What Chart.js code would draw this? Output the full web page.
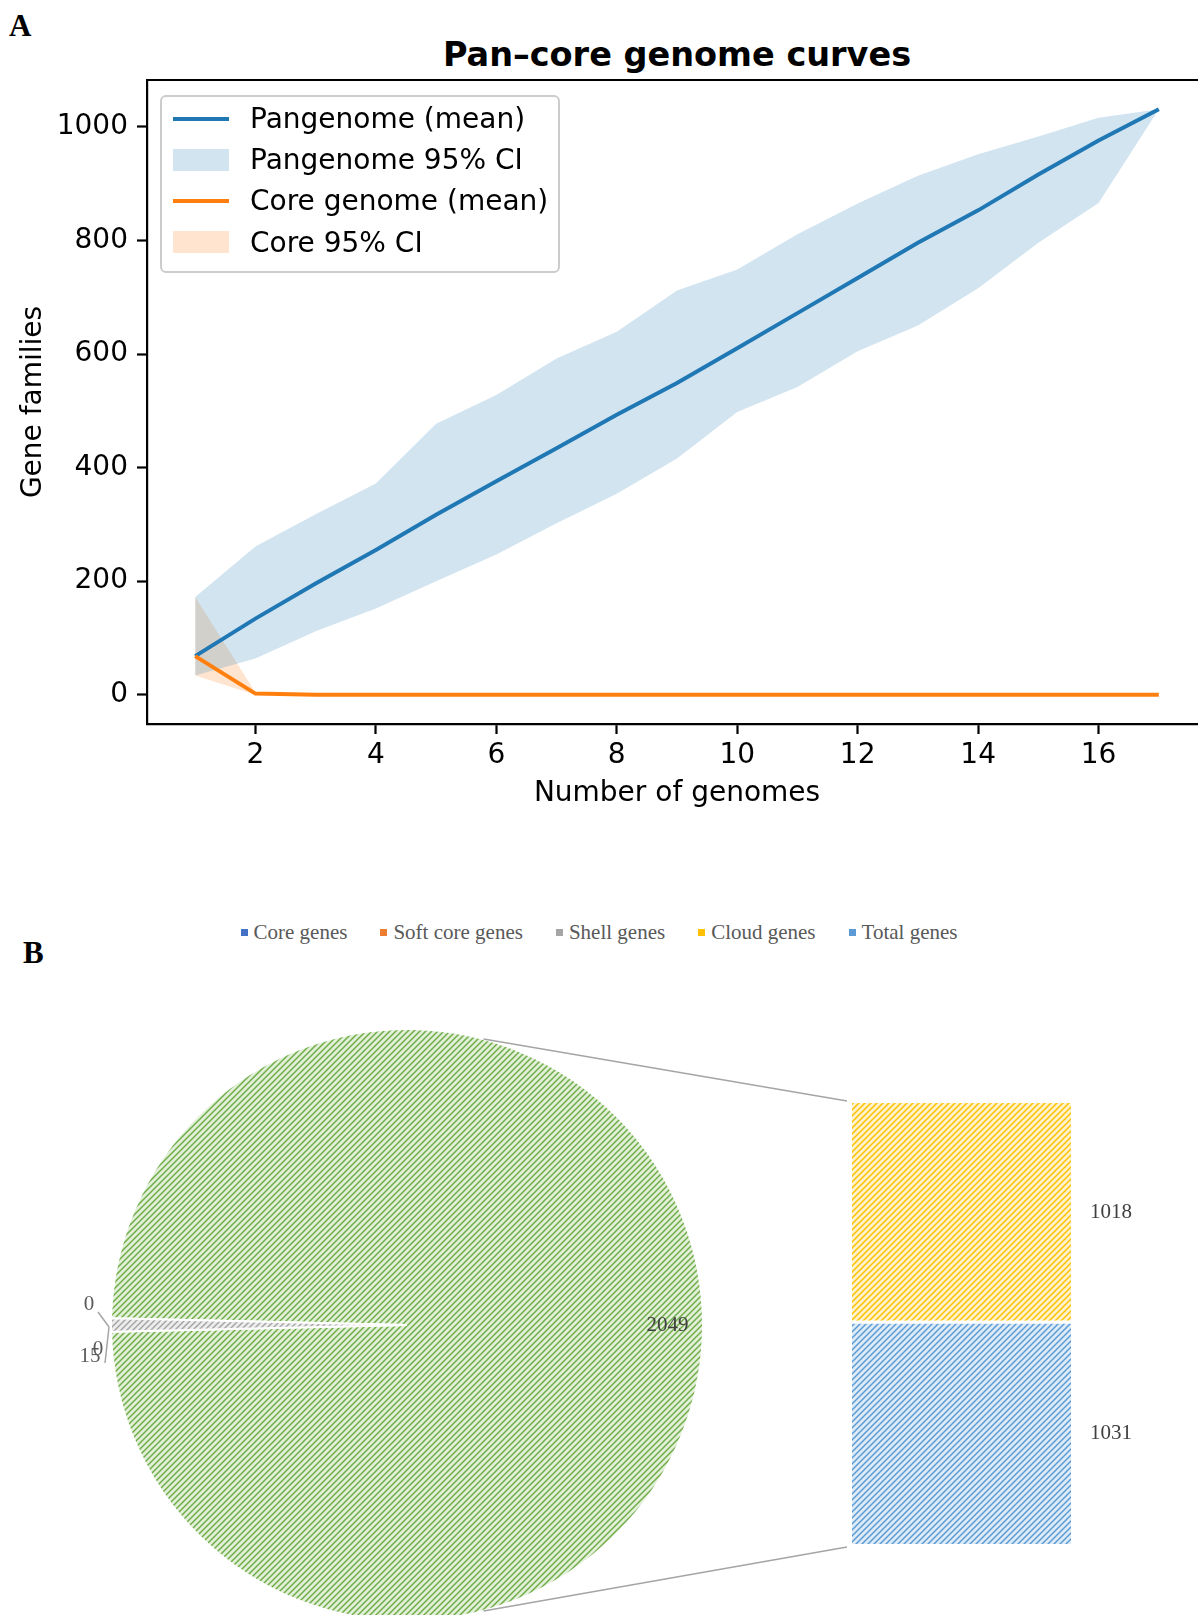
<!DOCTYPE html>
<html lang="en">
<head>
<meta charset="UTF-8">
<title>Pan-core genome curves</title>
<script src="https://cdn.jsdelivr.net/npm/chart.js"></script>
<style>
  html, body { margin: 0; padding: 0; background: #fff; overflow: hidden; }
  body { width: 1198px; height: 1615px; position: relative; }
  .abs { position: absolute; }
  .letter { font-family: 'Liberation Serif', serif; font-weight: bold; font-size: 31px; line-height: 1; }
  #titleA { font-family: 'DejaVu Sans'; font-weight: bold; font-size: 33.5px; line-height: 1;
            left: 377px; width: 600px; text-align: center; top: 38px; }
  #legendA { left: 160px; top: 95px; width: 396px; height: 173px; border: 2px solid #cccccc;
             border-radius: 6px; background: rgba(255,255,255,0.8); font-family: 'DejaVu Sans';
             font-size: 28px; padding-top: 1px; box-sizing: content-box; }
  #legendA .row { height: 41.2px; display: flex; align-items: center; }
  #legendA .hl { width: 56px; margin-left: 11px; margin-right: 21px; }
  #legendB { left: 0; width: 1198px; top: 919px; display: flex; justify-content: center; gap: 33px;
             font-family: 'Liberation Serif', serif; font-size: 21px; color: #595959; line-height: 26px; }
  #legendB .it { display: flex; align-items: center; }
  #legendB .sq { width: 7px; height: 7px; margin-right: 6px; }
</style>
</head>
<body>
<div class="abs letter" style="left:9px; top:10px;">A</div>
<div class="abs letter" style="left:23px; top:937px;">B</div>
<div class="abs" id="titleA">Pan–core genome curves</div>

<div class="abs" style="left:0; top:0; width:1210px; height:820px;"><canvas id="curves"></canvas></div>
<div class="abs" id="legendA"></div>

<div class="abs" id="legendB"></div>
<div class="abs" style="left:60px; top:1001px; width:694px; height:648px;"><canvas id="pie"></canvas></div>
<div class="abs" style="left:800px; top:1090px; width:398px; height:470px;"><canvas id="bar"></canvas></div>
<canvas class="abs" id="links" width="1198" height="1615" style="left:0; top:0; pointer-events:none;"></canvas>

<script>
// ---- Panel A data ----
const genomes   = [1, 2, 3, 4, 5, 6, 7, 8, 9, 10, 11, 12, 13, 14, 15, 16, 17];
const panMean   = [68, 134, 196, 255, 317, 376, 434, 493, 549, 610, 672, 734, 796, 853, 916, 976, 1031];
const panUpper  = [172, 261, 318, 372, 477, 528, 592, 639, 712, 749, 811, 865, 914, 952, 983, 1016, 1031];
const panLower  = [34, 64, 112, 152, 200, 247, 302, 354, 416, 498, 542, 605, 650, 716, 796, 866, 1031];
const coreMean  = [68, 2, 0, 0, 0, 0, 0, 0, 0, 0, 0, 0, 0, 0, 0, 0, 0];
const coreUpper = [172, 4, 0, 0, 0, 0, 0, 0, 0, 0, 0, 0, 0, 0, 0, 0, 0];
const coreLower = [34, 0, 0, 0, 0, 0, 0, 0, 0, 0, 0, 0, 0, 0, 0, 0, 0];
const yTicks = [0, 200, 400, 600, 800, 1000];
const xTicks = [2, 4, 6, 8, 10, 12, 14, 16];

// ---- Panel B data ----
const pieCategories = ['Core genes', 'Soft core genes', 'Shell genes'];
const pieValues     = [0, 0, 15];
const barCategories = ['Cloud genes', 'Total genes'];
const barValues     = [1018, 1031];

const BLUE = '#1f77b4', ORANGE = '#ff7f0e';
Chart.defaults.font.family = 'DejaVu Sans';
Chart.defaults.color = '#000';

const pts = ys => genomes.map((x, i) => ({x: x, y: ys[i]}));
const yLo = Math.min(...coreLower), yHi = Math.max(...panUpper);
const ySpan = yHi - yLo, xSpan = genomes[genomes.length - 1] - genomes[0];

const frame = {
  id: 'frame',
  afterDraw(c) {
    const a = c.chartArea, g = c.ctx;
    g.save(); g.strokeStyle = '#000'; g.lineWidth = 2.2;
    g.beginPath(); g.moveTo(a.left, a.top); g.lineTo(a.right, a.top); g.lineTo(a.right, a.bottom); g.stroke();
    g.restore();
  }
};

const band = (data, fill, color) => ({data: pts(data), fill: fill, backgroundColor: color,
  borderColor: 'transparent', borderWidth: 0, pointRadius: 0, order: 2});

new Chart(document.getElementById('curves'), {
  type: 'line',
  data: {
    datasets: [
      Object.assign(band(panUpper, 1, 'rgba(31,119,180,0.2)'), {label: 'Pangenome 95% CI'}),
      band(panLower, false, 'transparent'),
      Object.assign(band(coreUpper, 3, 'rgba(255,127,14,0.2)'), {label: 'Core 95% CI'}),
      band(coreLower, false, 'transparent'),
      {label: 'Pangenome (mean)', data: pts(panMean), borderColor: BLUE, borderWidth: 4, pointRadius: 0, fill: false, order: 1},
      {label: 'Core genome (mean)', data: pts(coreMean), borderColor: ORANGE, borderWidth: 4, pointRadius: 0, fill: false, order: 0}
    ]
  },
  options: {
    responsive: true, maintainAspectRatio: false, animation: false,
    layout: {padding: {top: 80, right: 3, left: 0, bottom: 0}},
    plugins: {legend: {display: false}, tooltip: {enabled: false}},
    scales: {
      x: {
        type: 'linear', min: genomes[0] - 0.05 * xSpan, max: genomes[genomes.length - 1] + 0.05 * xSpan,
        afterBuildTicks: s => { s.ticks = xTicks.map(v => ({value: v})); },
        afterFit: s => { s.height = 96; },
        grid: {drawOnChartArea: false, tickLength: 10, tickColor: '#000', tickWidth: 2.2},
        border: {color: '#000', width: 2.2},
        ticks: {font: {size: 28}, padding: 5, maxRotation: 0, callback: v => String(v)},
        title: {display: true, text: 'Number of genomes', font: {size: 28}, padding: {top: 0, bottom: 9}}
      },
      y: {
        min: yLo - 0.05 * ySpan, max: yHi + 0.05 * ySpan,
        afterBuildTicks: s => { s.ticks = yTicks.map(v => ({value: v})); },
        afterFit: s => { s.width = 147; },
        grid: {drawOnChartArea: false, tickLength: 10, tickColor: '#000', tickWidth: 2.2},
        border: {color: '#000', width: 2.2},
        ticks: {font: {size: 28}, padding: 9, callback: v => String(v)},
        title: {display: true, text: 'Gene families', font: {size: 28}, padding: {top: 17, bottom: 0}}
      }
    }
  },
  plugins: [frame]
});

// legend for panel A
const legA = [
  {t: 'Pangenome (mean)', kind: 'line', c: BLUE},
  {t: 'Pangenome 95% CI', kind: 'patch', c: 'rgba(31,119,180,0.2)'},
  {t: 'Core genome (mean)', kind: 'line', c: ORANGE},
  {t: 'Core 95% CI', kind: 'patch', c: 'rgba(255,127,14,0.2)'}
];
document.getElementById('legendA').innerHTML = legA.map(l =>
  '<div class="row"><span class="hl" style="background:' + l.c + ';height:' + (l.kind === 'line' ? 4 : 22) + 'px"></span>' +
  '<span>' + l.t + '</span></div>').join('');

// ---- Panel B ----
function hatch(line, fill) {
  const c = document.createElement('canvas');
  c.width = 6; c.height = 6;
  const g = c.getContext('2d');
  g.fillStyle = fill; g.fillRect(0, 0, 6, 6);
  g.strokeStyle = line; g.lineWidth = 1.5;
  g.beginPath();
  g.moveTo(0, 6); g.lineTo(6, 0);
  g.moveTo(-1, 1); g.lineTo(1, -1);
  g.moveTo(5, 7); g.lineTo(7, 5);
  g.stroke();
  return g.createPattern(c, 'repeat');
}

const legendNames  = pieCategories.concat(barCategories);
const legendColors = ['#4472C4', '#ED7D31', '#A5A5A5', '#FFC000', '#5B9BD5'];
document.getElementById('legendB').innerHTML = legendNames.map((n, i) =>
  '<div class="it"><span class="sq" style="background:' + legendColors[i] + '"></span>' + n + '</div>').join('');

const otherValue = barValues.reduce((a, b) => a + b, 0);
const pieTotal = otherValue + pieValues.reduce((a, b) => a + b, 0);
const otherSpan = otherValue / pieTotal * 360;

// label offsets for the tiny slices (relative to slice edge point)
const smallLabelOffsets = [[-22, -21], [-13, 24], [-21, 31]];

const pieLabels = {
  id: 'pieLabels',
  afterDatasetsDraw(c) {
    const g = c.ctx, meta = c.getDatasetMeta(0), vals = c.data.datasets[0].data;
    g.save();
    g.font = '21px "Liberation Serif"';
    g.textAlign = 'center'; g.textBaseline = 'middle';
    const shell = meta.data[3];
    const sm = (shell.startAngle + shell.endAngle) / 2;
    const ex = shell.x + Math.cos(sm) * shell.outerRadius, ey = shell.y + Math.sin(sm) * shell.outerRadius;
    g.strokeStyle = '#A5A5A5'; g.lineWidth = 1.5;
    g.beginPath();
    g.moveTo(ex - 2, ey + 2); g.lineTo(ex - 13, ey - 13);
    g.moveTo(ex - 2, ey + 2); g.lineTo(ex - 6, ey + 38);
    g.stroke();
    meta.data.forEach((arc, i) => {
      if (i === 0) {
        const m = (arc.startAngle + arc.endAngle) / 2;
        g.fillStyle = '#404040';
        g.fillText(String(vals[i]), arc.x + Math.cos(m) * arc.outerRadius * 0.88, arc.y + Math.sin(m) * arc.outerRadius * 0.88);
      } else {
        const o = smallLabelOffsets[i - 1];
        g.fillStyle = '#595959';
        g.fillText(String(vals[i]), ex + o[0], ey + o[1]);
      }
    });
    g.restore();
  }
};

const pieChart = new Chart(document.getElementById('pie'), {
  type: 'pie',
  data: {
    labels: ['Other'].concat(pieCategories),
    datasets: [{
      data: [otherValue].concat(pieValues),
      backgroundColor: [hatch('#70AD47', '#E2F0D9'), '#4472C4', '#ED7D31', hatch('#A5A5A5', '#EDEDED')],
      borderColor: '#fff', borderWidth: 2, hoverOffset: 0
    }]
  },
  options: {
    responsive: true, maintainAspectRatio: false, animation: false,
    rotation: 90 - otherSpan / 2,
    layout: {padding: {left: 50, right: 50, top: 27, bottom: 27}},
    plugins: {legend: {display: false}, tooltip: {enabled: false}},
    events: []
  },
  plugins: [pieLabels]
});

const barLabels = {
  id: 'barLabels',
  afterDatasetsDraw(c) {
    const g = c.ctx;
    g.save();
    g.font = '21px "Liberation Serif"';
    g.fillStyle = '#404040'; g.textAlign = 'center'; g.textBaseline = 'middle';
    c.data.datasets.forEach((ds, i) => {
      const b = c.getDatasetMeta(i).data[0];
      g.fillText(String(ds.data[0]), b.x + b.width / 2 + 40, (b.y + b.base) / 2);
    });
    g.restore();
  }
};

const barChart = new Chart(document.getElementById('bar'), {
  type: 'bar',
  data: {
    labels: ['Other'],
    datasets: [
      {label: barCategories[1], data: [barValues[1]], backgroundColor: hatch('#5B9BD5', '#DDEBF7'),
       borderColor: '#fff', borderWidth: {top: 2, left: 0, right: 0, bottom: 0}, borderSkipped: false},
      {label: barCategories[0], data: [barValues[0]], backgroundColor: hatch('#FFC000', '#FFF2CC'),
       borderColor: '#fff', borderWidth: {top: 0, left: 0, right: 0, bottom: 2}, borderSkipped: false}
    ]
  },
  options: {
    responsive: true, maintainAspectRatio: false, animation: false,
    layout: {padding: {left: 52, right: 127, top: 13, bottom: 16}},
    plugins: {legend: {display: false}, tooltip: {enabled: false}},
    events: [],
    datasets: {bar: {barPercentage: 1, categoryPercentage: 1}},
    scales: {
      x: {display: false, stacked: true},
      y: {display: false, stacked: true, min: 0, max: otherValue}
    }
  },
  plugins: [barLabels]
});

// connector lines between pie and bar
function drawLinks() {
  const g = document.getElementById('links').getContext('2d');
  const pr = document.getElementById('pie').getBoundingClientRect();
  const br = document.getElementById('bar').getBoundingClientRect();
  const arc = pieChart.getDatasetMeta(0).data[0];
  const top = barChart.getDatasetMeta(1).data[0], bottom = barChart.getDatasetMeta(0).data[0];
  const ang = 75 * Math.PI / 180;
  const cx = pr.left + arc.x, cy = pr.top + arc.y, r = arc.outerRadius;
  const bx = br.left + top.x - top.width / 2 - 5;
  g.clearRect(0, 0, 1198, 1615);
  g.strokeStyle = '#A5A5A5'; g.lineWidth = 1.5;
  g.beginPath();
  g.moveTo(cx + Math.cos(-ang) * r, cy + Math.sin(-ang) * r); g.lineTo(bx, br.top + top.y - 2);
  g.moveTo(cx + Math.cos(ang) * r, cy + Math.sin(ang) * r); g.lineTo(bx, br.top + bottom.base + 3);
  g.stroke();
}
drawLinks();
requestAnimationFrame(drawLinks);
</script>
</body>
</html>
